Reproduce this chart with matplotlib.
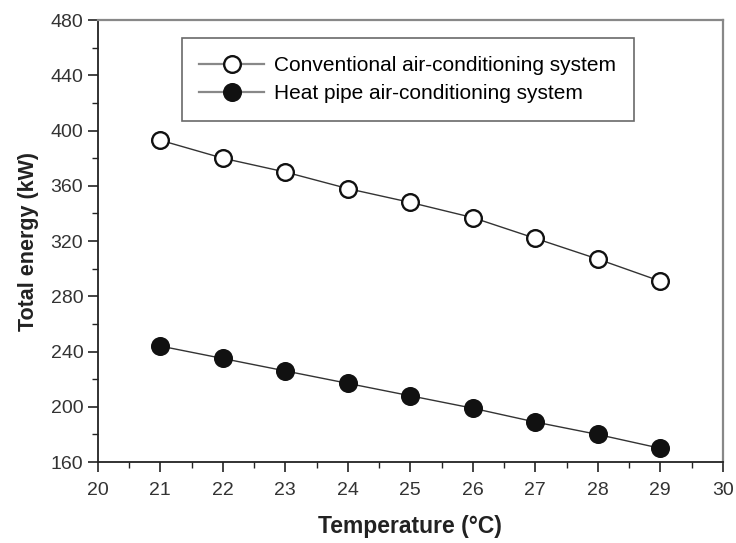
import matplotlib.pyplot as plt
from matplotlib.ticker import MultipleLocator

plt.rcParams['font.family'] = ['Liberation Sans', 'DejaVu Sans']

temperature = [21, 22, 23, 24, 25, 26, 27, 28, 29]
conventional = [393, 380, 370, 358, 348, 337, 322, 307, 291]
heat_pipe = [244, 235, 226, 217, 208, 199, 189, 180, 170]

fig = plt.figure(figsize=(7.36, 5.43), dpi=100)
ax = fig.add_axes([0.133, 0.149, 0.849, 0.814])

ax.plot(temperature, conventional, color='#333333', lw=1.0, marker='o',
        ms=12, mfc='white', mec='#111111', mew=1.7,
        label='Conventional air-conditioning system')
ax.plot(temperature, heat_pipe, color='#333333', lw=1.0, marker='o',
        ms=12.5, mfc='#111111', mec='#111111', mew=1.2,
        label='Heat pipe air-conditioning system')

ax.set_xlim(20, 30)
ax.set_ylim(160, 480)
ax.xaxis.set_major_locator(MultipleLocator(1))
ax.xaxis.set_minor_locator(MultipleLocator(0.5))
ax.yaxis.set_major_locator(MultipleLocator(40))
ax.yaxis.set_minor_locator(MultipleLocator(20))
ax.tick_params(which='major', direction='out', length=7, width=1.2,
               labelsize=14, colors='#222222', labelcolor='#333333')
ax.tick_params(axis='x', which='major', pad=7)
ax.tick_params(which='minor', direction='out', length=4, width=1.0, colors='#222222')

for side in ['left', 'bottom']:
    ax.spines[side].set_linewidth(1.3)
    ax.spines[side].set_color('#222222')
for side in ['top', 'right']:
    ax.spines[side].set_linewidth(1.6)
    ax.spines[side].set_color('#888888')

ax.set_xlabel('Temperature (°C)', fontsize=16.5, fontweight='bold', color='#222222', labelpad=12)
ax.set_ylabel('Total energy (kW)', fontsize=15.5, fontweight='bold', color='#222222', labelpad=8)

leg = ax.legend(loc='upper left', bbox_to_anchor=(0.134, 0.959), borderaxespad=0,
                fontsize=15, frameon=True, fancybox=False, edgecolor='#444444',
                handlelength=3.1, handletextpad=0.5, borderpad=0.85, labelspacing=0.45)
leg.get_frame().set_linewidth(1.2)
for line in leg.get_lines():
    line.set_color('#888888')
    line.set_linewidth(1.6)

fig.savefig('out.png', dpi=100)
